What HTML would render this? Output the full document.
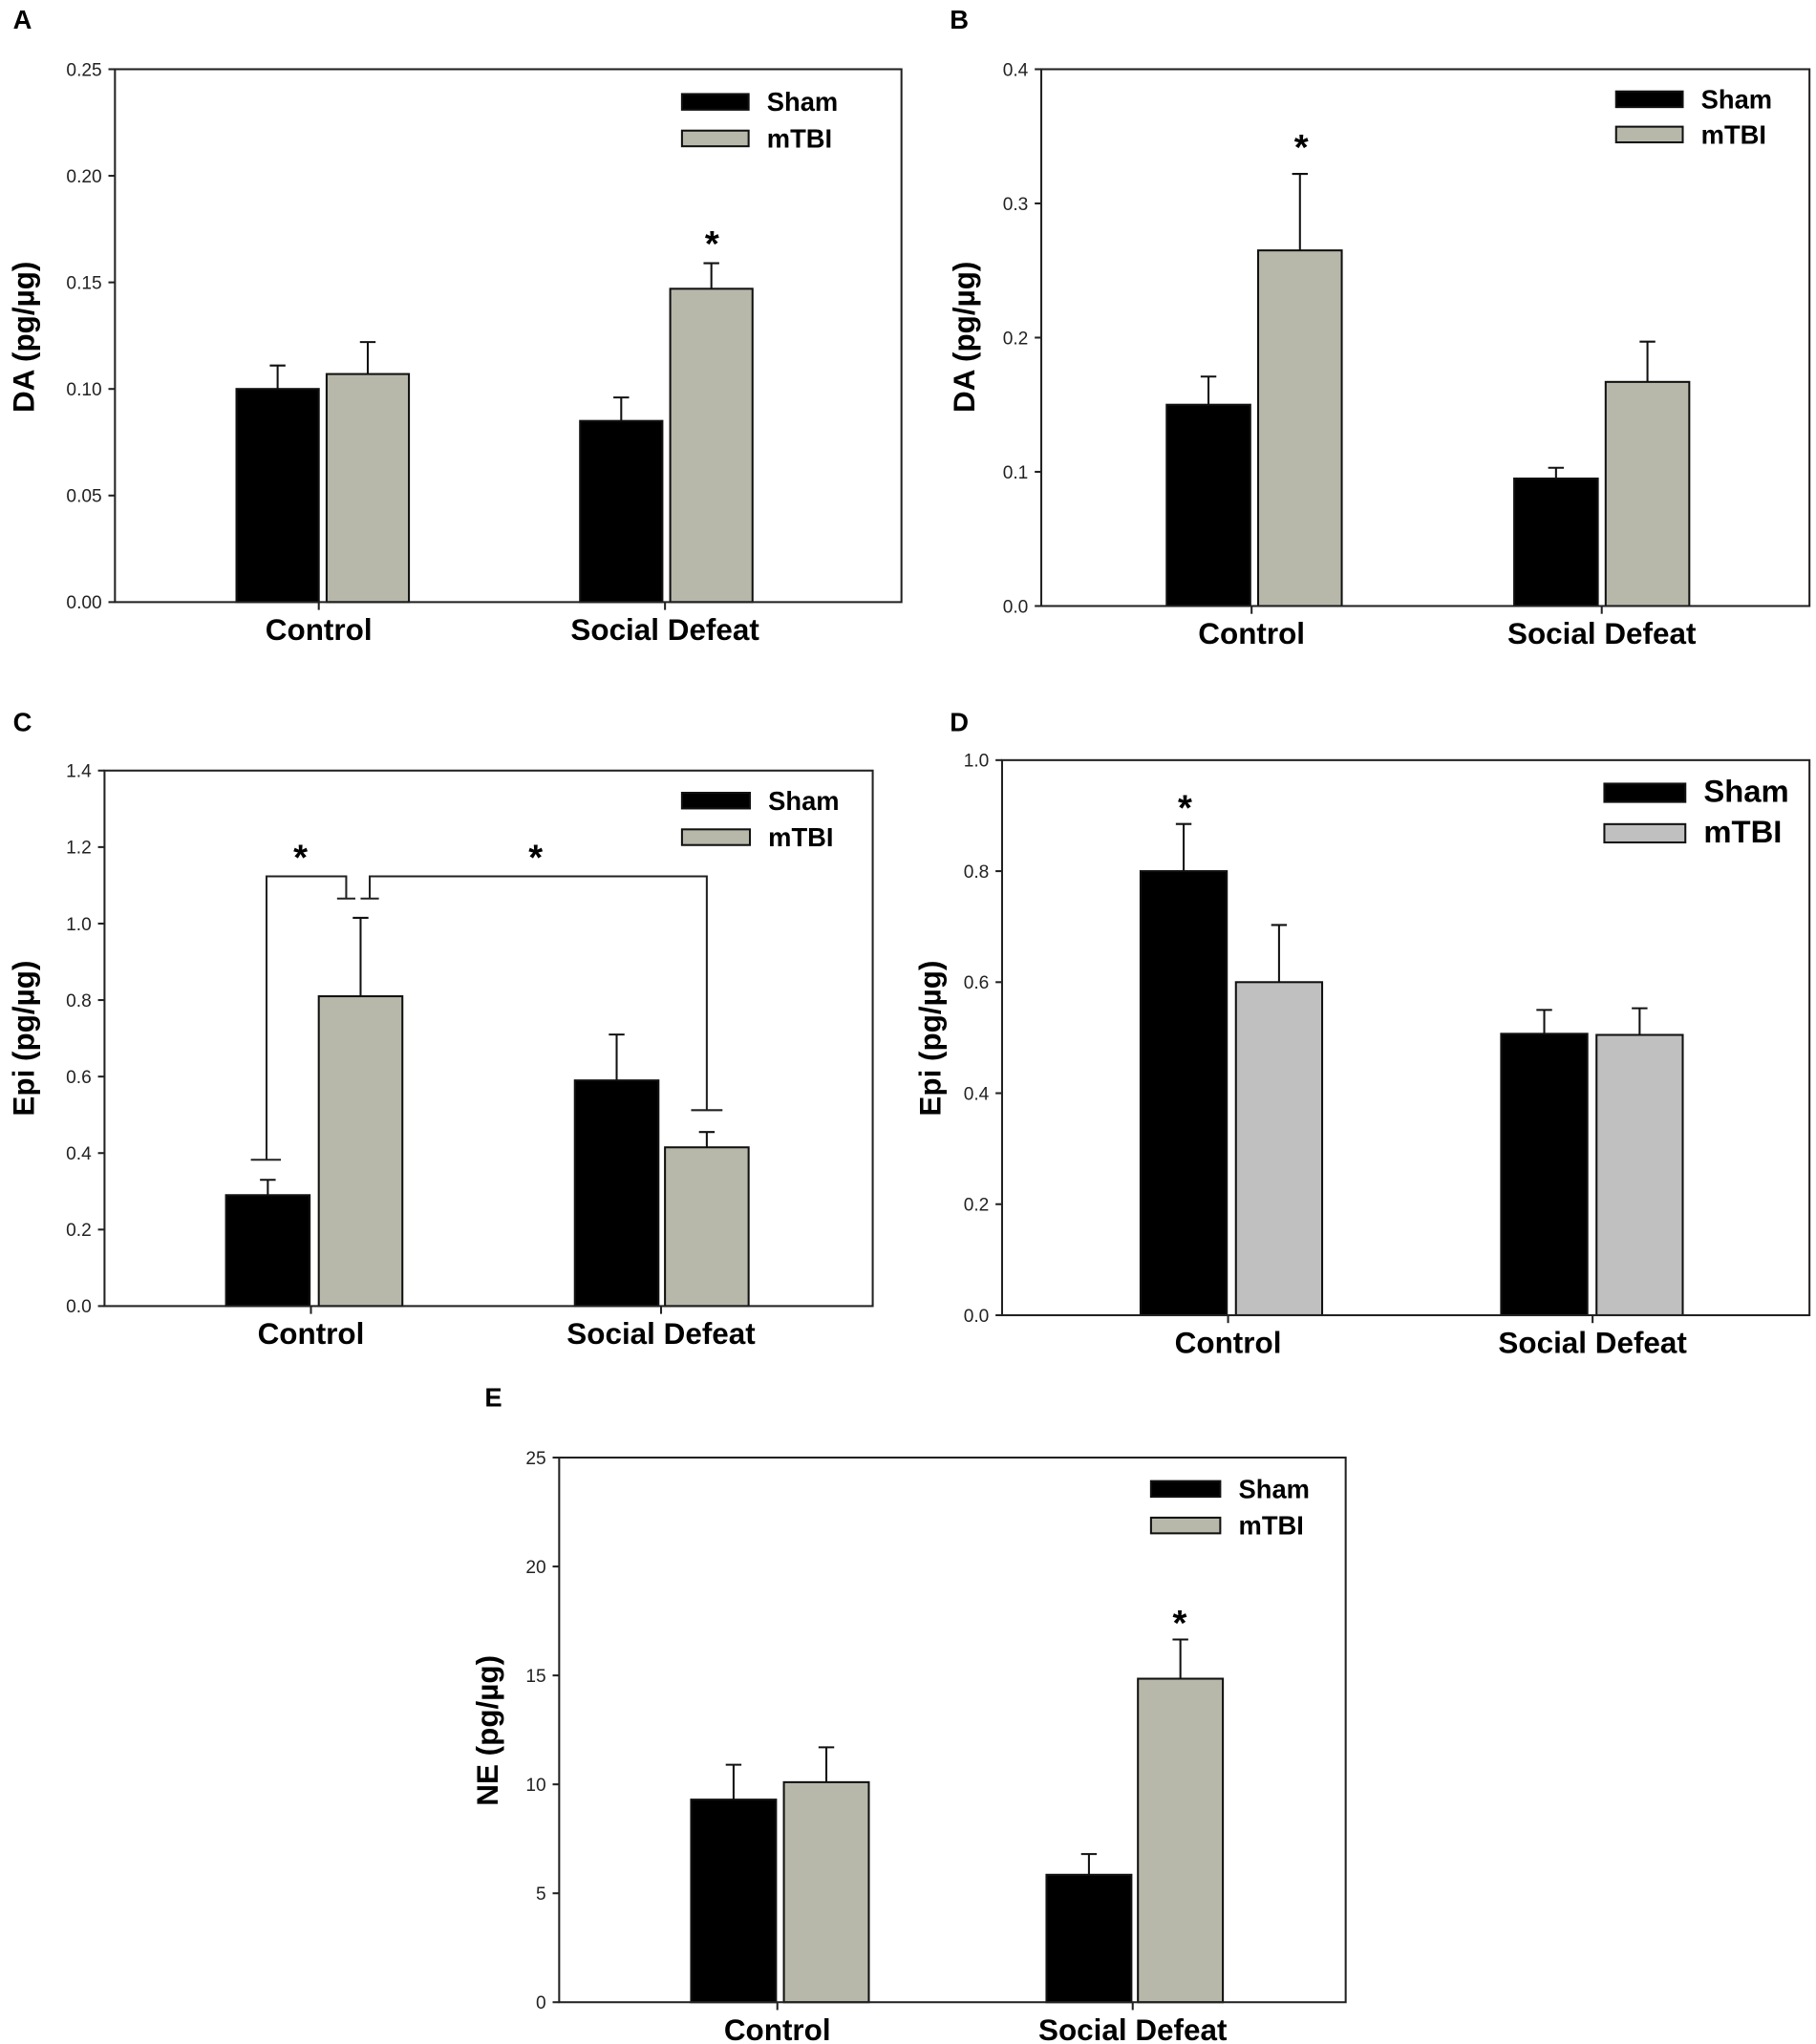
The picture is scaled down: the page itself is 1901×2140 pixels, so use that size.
<!DOCTYPE html>
<html><head><meta charset="utf-8"><style>
html,body{margin:0;padding:0;background:#fff;}
svg{display:block;}
text{font-family:"Liberation Sans",sans-serif;}
</style></head>
<body>
<svg id="fig" width="1901" height="2140" viewBox="0 0 1390 1565" preserveAspectRatio="none" xmlns="http://www.w3.org/2000/svg"></svg>
<script>
const categories = ["Control", "Social Defeat"];
const seriesNames = ["Sham", "mTBI"];
// Panel A: DA
const aSham = [0.100, 0.085], aShamErr = [0.011, 0.011];
const aTbi = [0.107, 0.147], aTbiErr = [0.015, 0.012];
const aTicks = ["0.00","0.05","0.10","0.15","0.20","0.25"];
// Panel B: DA
const bSham = [0.150, 0.095], bShamErr = [0.021, 0.008];
const bTbi = [0.265, 0.167], bTbiErr = [0.057, 0.030];
const bTicks = ["0.0","0.1","0.2","0.3","0.4"];
// Panel C: Epi
const cSham = [0.29, 0.59], cShamErr = [0.04, 0.12];
const cTbi = [0.81, 0.415], cTbiErr = [0.205, 0.04];
const cTicks = ["0.0","0.2","0.4","0.6","0.8","1.0","1.2","1.4"];
// Panel D: Epi
const dSham = [0.80, 0.507], dShamErr = [0.085, 0.043];
const dTbi = [0.60, 0.505], dTbiErr = [0.103, 0.048];
const dTicks = ["0.0","0.2","0.4","0.6","0.8","1.0"];
// Panel E: NE
const eSham = [9.3, 5.85], eShamErr = [1.6, 0.95];
const eTbi = [10.1, 14.85], eTbiErr = [1.6, 1.8];
const eTicks = ["0","5","10","15","20","25"];

const NS = "http://www.w3.org/2000/svg";
const svg = document.getElementById("fig");
function mk(tag, attrs, parent, txt){
  const e = document.createElementNS(NS, tag);
  for (const k in attrs) e.setAttribute(k, attrs[k]);
  if (txt !== undefined) e.textContent = txt;
  (parent||svg).appendChild(e);
  return e;
}

function panel(p){
  const g = mk("g", {});
  
  
  const max = parseFloat(p.ticks[p.ticks.length-1]);
  const y = v => p.y1 - (v/max)*(p.y1-p.y0);
  const lt = mk("text", {x:p.letter[0], y:p.letter[1], "font-size":20, "font-weight":"bold"}, g, p.id.toUpperCase());
  
  
  p.series.forEach((s, si) => {
    s.vals.forEach((v, ci) => {
      const bx = p.barX[ci][si];
      const r = mk("rect", {x:bx, y:y(v), width:p.bw, height:y(0)-y(v), fill:si===0?"#000":p.gray, stroke:"#111", "stroke-width":1.5}, g);
      
      
      const cx = bx + p.bw/2, te = y(v + s.err[ci]);
      const el = mk("path", {d:`M${cx},${y(v)}V${te}M${cx-6},${te}H${cx+6}`, stroke:"#111", "stroke-width":1.5, fill:"none"}, g);
      
      
    });
  });
  const box = mk("rect", {x:p.x0, y:p.y0, width:p.x1-p.x0, height:p.y1-p.y0, fill:"none", stroke:"#222", "stroke-width":1.5}, g);
  
  
  p.ticks.forEach(t => {
    const ty = y(parseFloat(t));
    mk("line", {x1:p.x0-5, x2:p.x0, y1:ty, y2:ty, stroke:"#222", "stroke-width":1.5}, g);
    const tl = mk("text", {x:p.x0-10, y:ty+5, "font-size":14, "text-anchor":"end", fill:"#222"}, g, t);
    
    
  });
  categories.forEach((c, ci) => {
    const cx = p.catX[ci];
    mk("line", {x1:cx, x2:cx, y1:p.y1, y2:p.y1+6, stroke:"#222", "stroke-width":1.5}, g);
    const cl = mk("text", {x:cx, y:p.y1+29, "font-size":23, "font-weight":"bold", "text-anchor":"middle"}, g, c);
    
    
  });
  const yl = mk("text", {x:0, y:0, "font-size":23, "font-weight":"bold", "text-anchor":"middle", transform:`translate(${p.ylab[0]},${p.ylab[1]}) rotate(-90)`}, g, p.ytitle);
  
  
  seriesNames.forEach((n, si) => {
    const ly = p.leg[1] + si*p.leg[4];
    const lr = mk("rect", {x:p.leg[0], y:ly, width:p.leg[2], height:p.leg[3], fill:si===0?"#000":p.gray, stroke:"#111", "stroke-width":1.5}, g);
    
    
    const lt2 = mk("text", {x:p.leg[0]+p.leg[2]+14, y:ly+p.leg[3]/2+7, "font-size":p.legFs, "font-weight":"bold"}, g, n);
    
    
  });
  (p.stars||[]).forEach(s => {
    const st = mk("text", {x:s[0], y:s[1]+16, "font-size":28, "font-weight":"bold", "text-anchor":"middle"}, g, "*");
    
    
  });
  return {g, y};
}

panel({id:"a", letter:[10,22], x0:88, x1:690, y0:53, y1:461, ticks:aTicks, gray:"#b8b8aa",
  series:[{vals:aSham, err:aShamErr},{vals:aTbi, err:aTbiErr}], bw:63,
  barX:[[181,250],[444,513]], catX:[244,509], ylab:[26,258], ytitle:"DA (pg/µg)",
  leg:[522,72,51,12,28], legFs:20, stars:[[545,180]]});
panel({id:"b", letter:[727,22], x0:797, x1:1385, y0:53, y1:464, ticks:bTicks, gray:"#b8b8aa",
  series:[{vals:bSham, err:bShamErr},{vals:bTbi, err:bTbiErr}], bw:64,
  barX:[[893,963],[1159,1229]], catX:[958,1226], ylab:[746,258], ytitle:"DA (pg/µg)",
  leg:[1237,70,51,12,27], legFs:20, stars:[[996,106]]});
const C = panel({id:"c", letter:[10,560], x0:80, x1:668, y0:590, y1:1000, ticks:cTicks, gray:"#b8b8aa",
  series:[{vals:cSham, err:cShamErr},{vals:cTbi, err:cTbiErr}], bw:64,
  barX:[[173,244],[440,509]], catX:[238,506], ylab:[26,795], ytitle:"Epi (pg/µg)",
  leg:[522,607,52,12,28], legFs:20, stars:[[230,650],[410,650]]});
const br1 = mk("path", {d:"M192,888H215M204,888V671H265V688M258,688H272", stroke:"#222", "stroke-width":1.5, fill:"none"}, C.g);


const br2 = mk("path", {d:"M276,688H290M283,688V671H541V850M529,850H553", stroke:"#222", "stroke-width":1.5, fill:"none"}, C.g);


panel({id:"d", letter:[727,560], x0:767, x1:1385, y0:582, y1:1007, ticks:dTicks, gray:"#c0c0c0",
  series:[{vals:dSham, err:dShamErr},{vals:dTbi, err:dTbiErr}], bw:66,
  barX:[[873,946],[1149,1222]], catX:[940,1219], ylab:[720,795], ytitle:"Epi (pg/µg)",
  leg:[1228,600,62,14,31], legFs:24, stars:[[907,612]]});
panel({id:"e", letter:[371,1077], x0:428, x1:1030, y0:1116, y1:1533, ticks:eTicks, gray:"#b8b8aa",
  series:[{vals:eSham, err:eShamErr},{vals:eTbi, err:eTbiErr}], bw:65,
  barX:[[529,600],[801,871]], catX:[595,867], ylab:[381,1325], ytitle:"NE (pg/µg)",
  leg:[881,1134,53,12,28], legFs:20, stars:[[903,1236]]});
</script>
</body></html>
